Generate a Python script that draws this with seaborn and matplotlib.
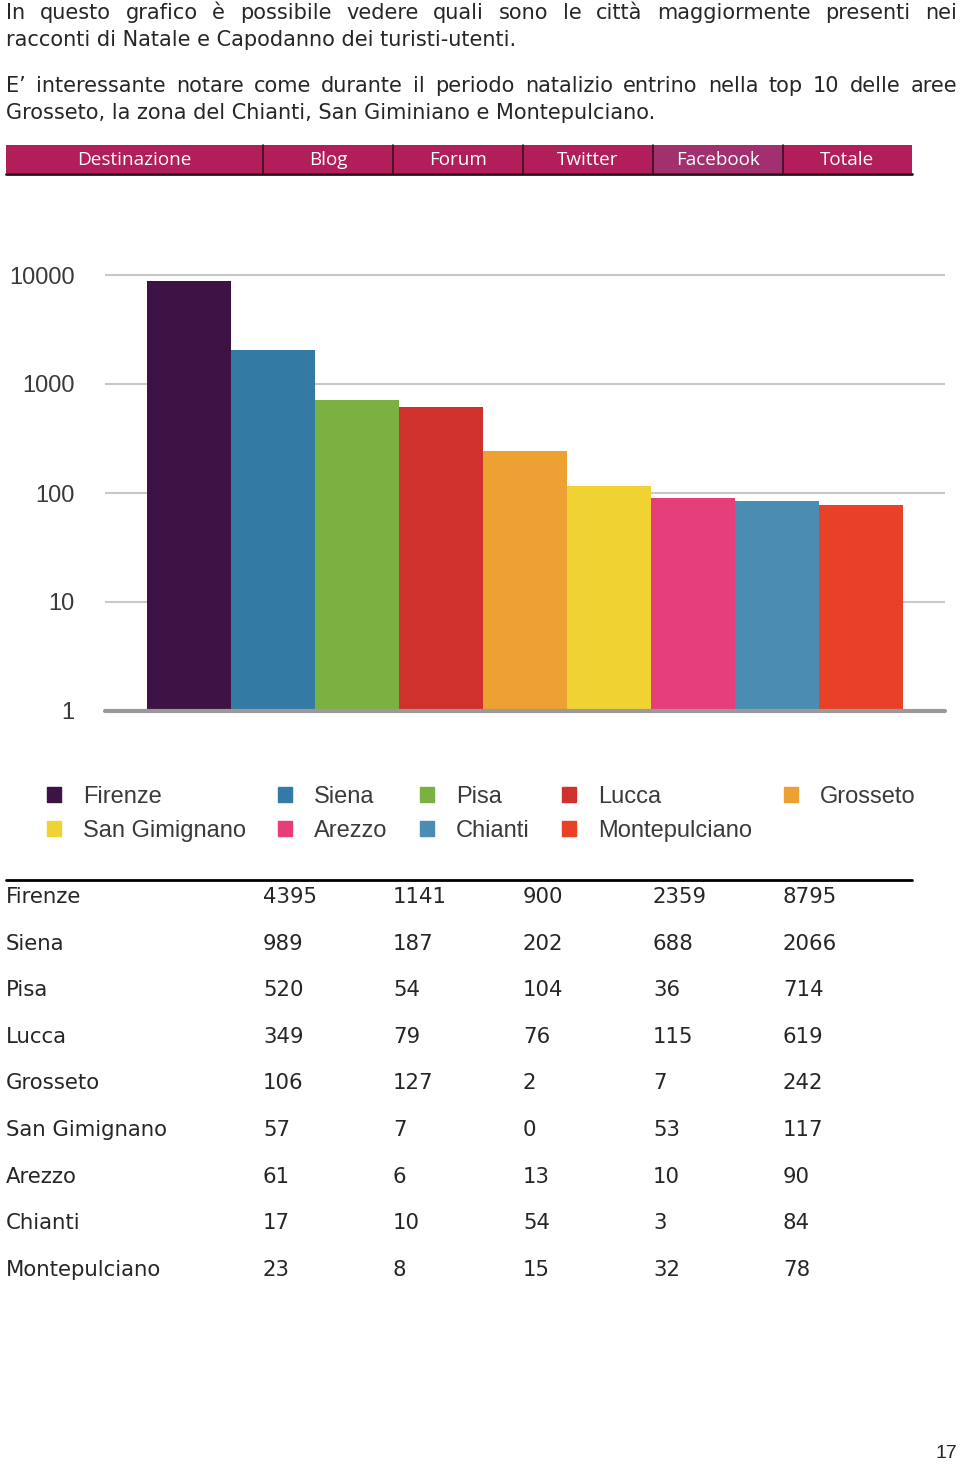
import numpy as np
import pandas as pd
import seaborn as sns
import matplotlib.pyplot as plt
from matplotlib.patches import Rectangle, Patch
from matplotlib.ticker import NullLocator

# data read from the page
cities = ["Firenze", "Siena", "Pisa", "Lucca", "Grosseto", "San Gimignano",
          "Arezzo", "Chianti", "Montepulciano"]
blog = [4395, 989, 520, 349, 106, 57, 61, 17, 23]
forum = [1141, 187, 54, 79, 127, 7, 6, 10, 8]
twitter = [900, 202, 104, 76, 2, 0, 13, 54, 15]
facebook = [2359, 688, 36, 115, 7, 53, 10, 3, 32]
totale = [8795, 2066, 714, 619, 242, 117, 90, 84, 78]
header = ["Destinazione", "Blog", "Forum", "Twitter", "Facebook", "Totale"]
bar_colors = ["#3d1244", "#337aa4", "#7bb141", "#d0312d", "#eca132",
              "#f0d232", "#e63d7b", "#4b8db2", "#e84128"]

sns.set_style("white")
plt.rcParams["font.family"] = ["DejaVu Sans"]

W, H = 960, 1464
fig = plt.figure(figsize=(W / 100, H / 100), dpi=100)

# overlay in pixel coordinates for the page text / table
ov = fig.add_axes([0, 0, 1, 1])
ov.set_xlim(0, W)
ov.set_ylim(H, 0)
ov.axis("off")

renderer = fig.canvas.get_renderer()


def justified(line, x0, x1, y, size):
    words = line.split(" ")
    texts = [ov.text(0, y, w, fontsize=size, va="center", ha="left") for w in words]
    widths = [t.get_window_extent(renderer).width for t in texts]
    gap = (x1 - x0 - sum(widths)) / (len(words) - 1)
    x = x0
    for t, w in zip(texts, widths):
        t.set_x(x)
        x += w + gap


txt_size = 15
justified("In questo grafico è possibile vedere quali sono le città maggiormente presenti nei",
          6, 957, 13, txt_size)
ov.text(6, 40, "racconti di Natale e Capodanno dei turisti-utenti.", fontsize=txt_size,
        va="center", ha="left")
justified("E’ interessante notare come durante il periodo natalizio entrino nella top 10 delle aree",
          6, 957, 86, txt_size)
ov.text(6, 113, "Grosseto, la zona del Chianti, San Giminiano e Montepulciano.", fontsize=txt_size,
        va="center", ha="left")

# header bar
col_x = [6, 263, 393, 523, 653, 783, 912]
for i, name in enumerate(header):
    c = "#a3306e" if name == "Facebook" else "#b21e5a"
    ov.add_patch(Rectangle((col_x[i], 145), col_x[i + 1] - col_x[i], 28, color=c, lw=0))
    ov.text((col_x[i] + col_x[i + 1]) / 2, 160, name, color="white", fontsize=13.6,
            family="Open Sans", ha="center", va="center")
for xs in col_x[1:-1]:
    ov.plot([xs, xs], [145, 173], color="#3a1020", lw=1.2)
ov.plot([6, 912], [174, 174], color="#2a1018", lw=2)

# table
ov.plot([6, 912], [880, 880], color="black", lw=2)
row_y = 897
for i, city in enumerate(cities):
    y = row_y + i * 46.6
    vals = [blog[i], forum[i], twitter[i], facebook[i], totale[i]]
    ov.text(6, y, city, fontsize=15.3, va="center", ha="left")
    for xs, v in zip(col_x[1:-1], vals):
        ov.text(xs, y, str(v), fontsize=15.3, va="center", ha="left")

ov.text(957, 1453, "17", fontsize=14, family="Liberation Sans", va="center", ha="right")

# bar chart
top_px, bot_px = 270, 711
ax = fig.add_axes([105 / W, 1 - bot_px / H, 840 / W, (bot_px - top_px) / H])
df = pd.DataFrame({"city": cities, "totale": totale})
sns.barplot(data=df, x="city", y="totale", hue="city", palette=bar_colors,
            width=1.0, saturation=1, legend=False, ax=ax, zorder=2, linewidth=0)
ax.set_yscale("log")
ax.set_ylim(1, 10 ** (4 + (275 - top_px) / 109))
ax.set_xlim(-1, 9)
ax.set_yticks([1, 10, 100, 1000, 10000])
ax.set_yticklabels(["1", "10", "100", "1000", "10000"])
ax.yaxis.set_minor_locator(NullLocator())
ax.tick_params(axis="y", length=0, pad=22, labelsize=17, labelcolor="#3a3a3a")
for lab in ax.get_yticklabels():
    lab.set_family("Liberation Sans")
ax.set_xticks([])
ax.set(xlabel="", ylabel="")
for s in ax.spines.values():
    s.set_visible(False)
ax.yaxis.grid(True, color="#c8c8c8", lw=1.5)
ax.set_axisbelow(True)
ax.axhline(1, color="#9a9a9a", lw=3, clip_on=False, zorder=3)

# legend laid out row by row like the original
order = [0, 5, 1, 6, 2, 7, 3, 8, 4]
handles = [Patch(color=bar_colors[i]) for i in order]
labels = [cities[i] for i in order]
leg = ax.legend(handles, labels, loc="upper left", bbox_to_anchor=(47 / W, 1 - 786 / H),
                bbox_transform=fig.transFigure, ncol=5, frameon=False, borderpad=0,
                borderaxespad=0, handlelength=0.6, handleheight=0.6, handletextpad=0.93,
                columnspacing=1.36, labelspacing=0.52,
                prop={"family": "Liberation Sans", "size": 17})
for t in leg.get_texts():
    t.set_color("#3a3a3a")

fig.savefig("out.png", dpi=100)
